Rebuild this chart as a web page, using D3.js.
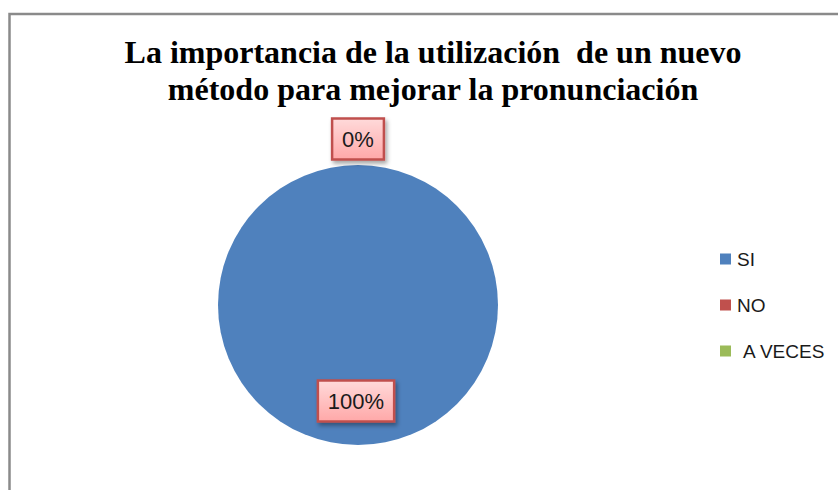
<!DOCTYPE html>
<html><head><meta charset="utf-8">
<script src="https://cdn.jsdelivr.net/npm/d3@7"></script>
<style>body{margin:0;background:#fff}svg{display:block}</style>
</head><body>
<svg id="chart" width="838" height="490"></svg>
<script>
const titleLines = ["La importancia de la utilización  de un nuevo", "método para mejorar la pronunciación"];
const categories = ["SI", "NO", "A VECES"];
const values = [100, 0, 0];
const labels = ["100%", "0%"];
const colors = ["#4f81bd", "#c0504d", "#9bbb59"];

const svg = d3.select("#chart");
const defs = svg.append("defs");
const grad = defs.append("linearGradient").attr("id","lblg").attr("x1",0).attr("y1",0).attr("x2",0).attr("y2",1);
grad.append("stop").attr("offset","0%").attr("stop-color","#ffdada");
grad.append("stop").attr("offset","100%").attr("stop-color","#ffa8a8");
const f = defs.append("filter").attr("id","sh").attr("x","-20%").attr("y","-20%").attr("width","150%").attr("height","150%");
f.append("feDropShadow").attr("dx",2).attr("dy",3).attr("stdDeviation",2).attr("flood-color","#000").attr("flood-opacity",0.35);

// border
svg.append("path").attr("d","M9.5,490 L9.5,14 L838,14").attr("fill","none").attr("stroke","#8a8a8a").attr("stroke-width",2.5);

// title
svg.append("text").attr("x",433).attr("y",63).attr("text-anchor","middle")
  .attr("font-family","'Liberation Serif','Times New Roman',serif").attr("font-weight","bold").attr("font-size",32)
  .attr("fill","#000").style("white-space","pre")
  .selectAll("tspan").data(titleLines).join("tspan")
  .attr("x",433).attr("dy",(d,i)=>i===0?0:37).text(d=>d);

const cx = 358, cy = 305, r = 140;
const pie = d3.pie().sort(null).value(d=>d)(values);
const arc = d3.arc().innerRadius(0).outerRadius(r);
const g = svg.append("g").attr("transform",`translate(${cx},${cy})`);
g.selectAll("path").data(pie).join("path").attr("d",arc).attr("fill",(d,i)=>colors[i]);

// data labels
const lblData = [
  {text: labels[0], x: -2, y: 96},
  {text: labels[1], x: 0, y: -166}
];
const lg = g.selectAll("g.lbl").data(lblData).join("g").attr("class","lbl")
  .attr("transform",d=>`translate(${d.x},${d.y})`);
lg.each(function(d){
  const s = d3.select(this);
  const t = s.append("text").attr("text-anchor","middle").attr("dy","0.36em")
    .attr("font-family","'Liberation Sans',Arial,sans-serif").attr("font-size",22).attr("fill","#1a1a1a").text(d.text);
  const w = t.node().getComputedTextLength() + 20;
  s.insert("rect","text").attr("x",-w/2).attr("y",-20.5).attr("width",w).attr("height",41)
    .attr("fill","url(#lblg)").attr("stroke","#c0504d").attr("stroke-width",2.5).attr("filter","url(#sh)");
});

// legend
const leg = svg.append("g").attr("transform","translate(720,259)");
const li = leg.selectAll("g").data(categories).join("g").attr("transform",(d,i)=>`translate(0,${i*46})`);
li.append("rect").attr("x",0).attr("y",-5.5).attr("width",11).attr("height",11).attr("fill",(d,i)=>colors[i]);
li.append("text").attr("x",(d,i)=>i===2?23:17).attr("y",0).attr("dy","0.36em")
  .attr("font-family","'Liberation Sans',Arial,sans-serif").attr("font-size",19).attr("fill","#1a1a1a").text(d=>d);
</script>
</body></html>
